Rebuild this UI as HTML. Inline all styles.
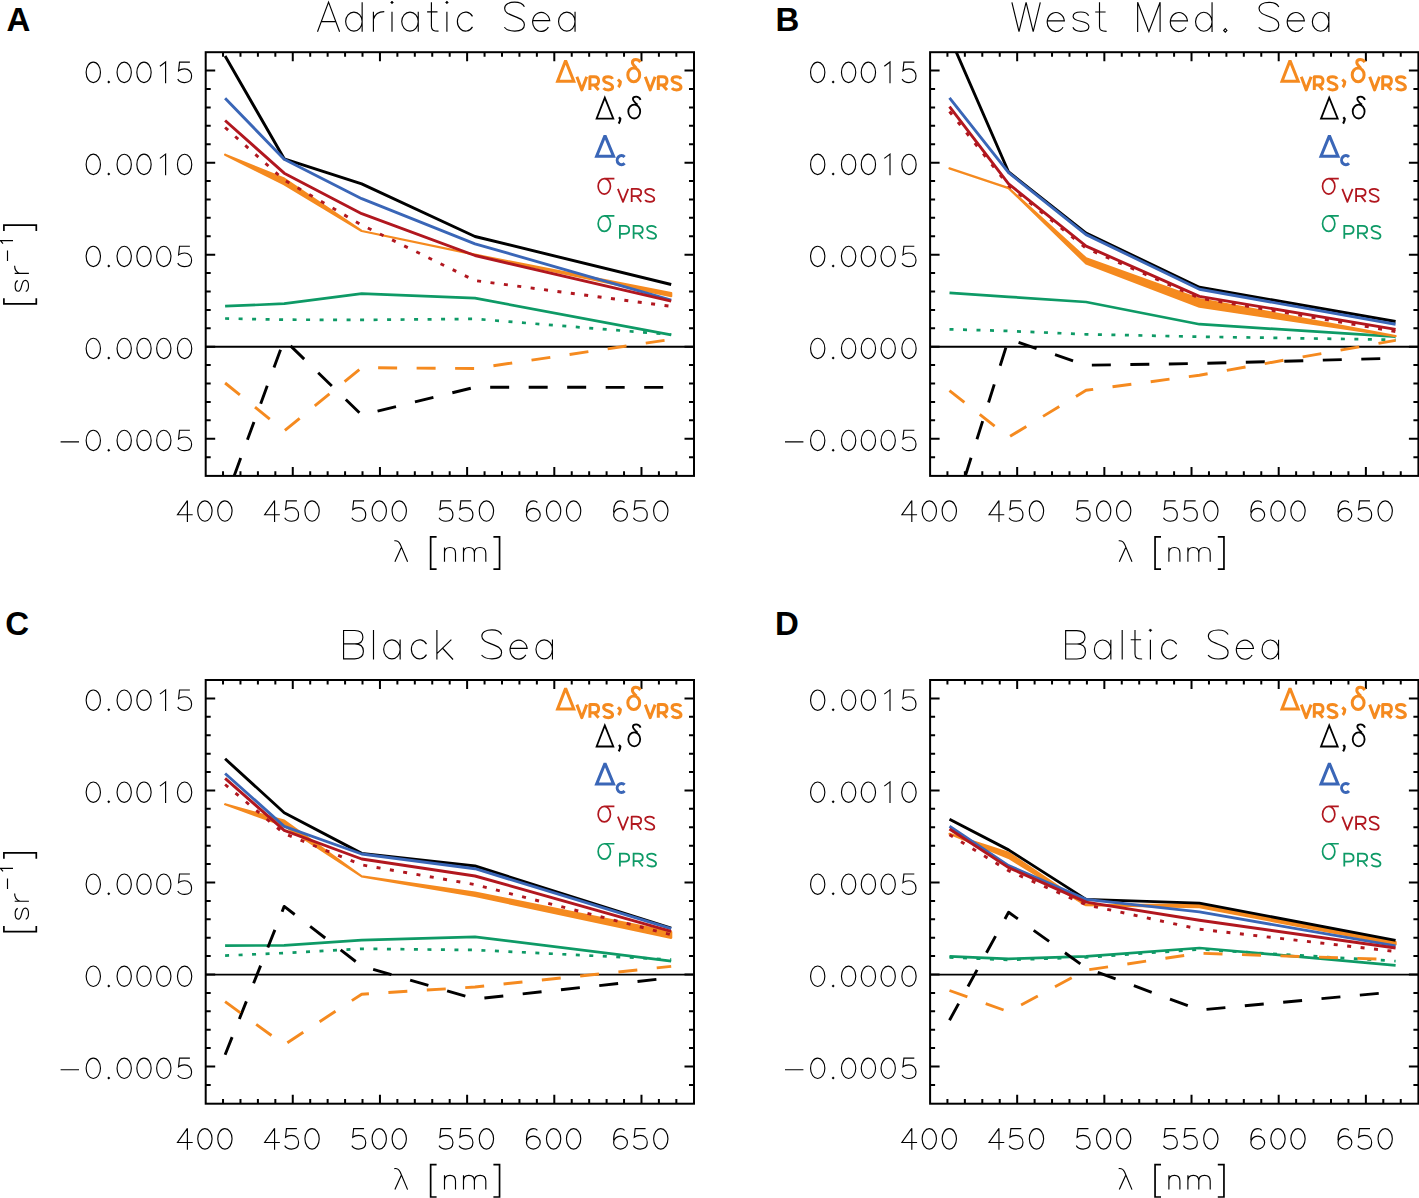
<!DOCTYPE html><html><head><meta charset="utf-8"><style>html,body{margin:0;padding:0;background:#fff}svg{display:block}</style></head><body><svg width="1419" height="1198" viewBox="0 0 1419 1198">
<rect width="1419" height="1198" fill="#fff"/>
<path d="M 317.5 31.75 L 328.55 2.15 L 339.6 31.75 M 321.3 21.55 H 335.8 M 362.15 21.6 A 8.25 9.5 0 1 0 345.65 21.6 A 8.25 9.5 0 1 0 362.15 21.6 M 362.15 2.15 V 31.75 M 373.4 11.75 V 31.75 M 373.4 19.25 C 374.95 13.95 378.25 11.65 384.25 11.65 M 392 11.85 V 31.75 M 418.25 21.6 A 8.25 9.5 0 1 0 401.75 21.6 A 8.25 9.5 0 1 0 418.25 21.6 M 418.25 11.85 V 31.75 M 427.1 11.85 H 437.5 M 431.4 2.15 V 26.25 C 431.4 30.15 433.4 31.15 438.5 31.15 M 446.9 11.85 V 31.75 M 472.5 16.35 A 8.25 9.5 0 1 0 472.5 26.85 M 524.4 6.75 C 522.6 3.25 519 2.15 514.7 2.15 C 509 2.15 504.65 4.35 504.65 8.45 C 504.65 12.35 508 13.95 514.5 16.35 C 521.2 18.85 524.4 20.55 524.4 24.85 C 524.4 29.25 520.4 31.15 514.8 31.15 C 510 31.15 506.3 29.75 504.35 27.25 M 532.85 20.65 H 549.75 A 8.6 9.5 0 1 0 548.4 27.15 M 575.05 21.6 A 8.25 9.5 0 1 0 558.55 21.6 A 8.25 9.5 0 1 0 575.05 21.6 M 575.05 11.85 V 31.75 M 1011.9 2.3 L 1019 31.7 L 1026.1 2.3 L 1033.2 31.7 L 1040.3 2.3 M 1047.45 20.8 H 1064.35 A 8.6 9.5 0 1 0 1063 27.3 M 1088.6 15.8 C 1087.5 13 1084.8 12 1080.8 12 C 1076.1 12 1073.1 13.6 1073.1 16.5 C 1073.1 19.4 1076.1 20.3 1080.8 21.3 C 1085.7 22.3 1088.9 23.5 1088.9 26.7 C 1088.9 30 1085.5 31.3 1080.8 31.3 C 1076.8 31.3 1074 30.1 1072.9 27.3 M 1095.2 12 H 1105.6 M 1099.5 2.3 V 26.4 C 1099.5 30.3 1101.5 31.3 1106.6 31.3 M 1137.65 31.9 V 2.3 L 1148.9 31.7 L 1160.1 2.3 V 31.9 M 1170.55 20.8 H 1187.45 A 8.6 9.5 0 1 0 1186.1 27.3 M 1212.05 21.75 A 8.25 9.5 0 1 0 1195.55 21.75 A 8.25 9.5 0 1 0 1212.05 21.75 M 1212.05 2.3 V 31.9 M 1225.3 28.7 L 1226.9 30.4 L 1225.3 32.1 L 1223.7 30.4 Z M 1278.8 6.9 C 1277 3.4 1273.4 2.3 1269.1 2.3 C 1263.4 2.3 1259.05 4.5 1259.05 8.6 C 1259.05 12.5 1262.4 14.1 1268.9 16.5 C 1275.6 19 1278.8 20.7 1278.8 25 C 1278.8 29.4 1274.8 31.3 1269.2 31.3 C 1264.4 31.3 1260.7 29.9 1258.75 27.4 M 1287.45 20.8 H 1304.35 A 8.6 9.5 0 1 0 1303 27.3 M 1328.85 21.75 A 8.25 9.5 0 1 0 1312.35 21.75 A 8.25 9.5 0 1 0 1328.85 21.75 M 1328.85 12 V 31.9 M 343.55 659.5 V 630.5 H 354.7 C 360.2 630.5 362.9 633 362.9 637.2 C 362.9 641.5 359.9 643.9 354.9 643.9 H 343.55 M 354.9 643.9 C 360.5 643.9 363.4 646.7 363.4 651.3 C 363.4 656.3 360.1 658.85 354.7 658.85 H 343.55 M 373.5 629.9 V 659.5 M 400.15 649.35 A 8.25 9.5 0 1 0 383.65 649.35 A 8.25 9.5 0 1 0 400.15 649.35 M 400.15 639.6 V 659.5 M 426.5 644.1 A 8.25 9.5 0 1 0 426.5 654.6 M 436.9 629.9 V 659.5 M 436.9 653.6 L 451.35 639.6 M 442.85 648.5 L 453.05 659.5 M 501.6 634.5 C 499.8 631 496.2 629.9 491.9 629.9 C 486.2 629.9 481.85 632.1 481.85 636.2 C 481.85 640.1 485.2 641.7 491.7 644.1 C 498.4 646.6 501.6 648.3 501.6 652.6 C 501.6 657 497.6 658.9 492 658.9 C 487.2 658.9 483.5 657.5 481.55 655 M 510.25 648.4 H 527.15 A 8.6 9.5 0 1 0 525.8 654.9 M 552.45 649.35 A 8.25 9.5 0 1 0 535.95 649.35 A 8.25 9.5 0 1 0 552.45 649.35 M 552.45 639.6 V 659.5 M 1065.65 659.6 V 630.6 H 1076.8 C 1082.3 630.6 1085 633.1 1085 637.3 C 1085 641.6 1082 644 1077 644 H 1065.65 M 1077 644 C 1082.6 644 1085.5 646.8 1085.5 651.4 C 1085.5 656.4 1082.2 658.95 1076.8 658.95 H 1065.65 M 1110.85 649.45 A 8.25 9.5 0 1 0 1094.35 649.45 A 8.25 9.5 0 1 0 1110.85 649.45 M 1110.85 639.7 V 659.6 M 1122.2 630 V 659.6 M 1130.7 639.7 H 1141.1 M 1135 630 V 654.1 C 1135 658 1137 659 1142.1 659 M 1150.4 639.7 V 659.6 M 1176.7 644.2 A 8.25 9.5 0 1 0 1176.7 654.7 M 1228.1 634.6 C 1226.3 631.1 1222.7 630 1218.4 630 C 1212.7 630 1208.35 632.2 1208.35 636.3 C 1208.35 640.2 1211.7 641.8 1218.2 644.2 C 1224.9 646.7 1228.1 648.4 1228.1 652.7 C 1228.1 657.1 1224.1 659 1218.5 659 C 1213.7 659 1210 657.6 1208.05 655.1 M 1236.55 648.5 H 1253.45 A 8.6 9.5 0 1 0 1252.1 655 M 1278.55 649.45 A 8.25 9.5 0 1 0 1262.05 649.45 A 8.25 9.5 0 1 0 1278.55 649.45 M 1278.55 639.7 V 659.6" fill="none" stroke="#000" stroke-width="1.15" stroke-linecap="butt"/>
<path d="M392.00 1.05 l1.4 1.4 l-1.4 1.4 l-1.4 -1.4 z" fill="#000" stroke="#000" stroke-width="0.6"/>
<path d="M446.90 1.05 l1.4 1.4 l-1.4 1.4 l-1.4 -1.4 z" fill="#000" stroke="#000" stroke-width="0.6"/>
<path d="M1150.40 628.90 l1.4 1.4 l-1.4 1.4 l-1.4 -1.4 z" fill="#000" stroke="#000" stroke-width="0.6"/>
<g transform="translate(0.00,0.00)">
<clipPath id="clipA"><rect x="205.70" y="52.20" width="488.30" height="423.70"/></clipPath>
<g clip-path="url(#clipA)" fill="none" stroke-linejoin="round">
<line x1="205.70" y1="346.8" x2="694.00" y2="346.8" stroke="#000" stroke-width="1.9"/>
<polyline points="225.10,318.50 284.20,319.70 361.70,319.90 475.00,318.90 671.20,334.60" stroke="#0e9a66" stroke-width="2.7" stroke-dasharray="4 9.5" stroke-linejoin="miter"/>
<polyline points="225.10,306.20 284.20,303.70 361.70,293.60 475.00,298.10 671.20,334.80" stroke="#0e9a66" stroke-width="2.7"/>
<polyline points="234.14,475.90 284.20,339.70 361.70,415.00 475.00,387.20 671.20,387.40" stroke="#000" stroke-width="2.9" stroke-dasharray="19 19.5"/>
<polyline points="225.10,383.00 284.20,430.90 361.70,367.70 475.00,368.50 671.20,339.40" stroke="#f58a1f" stroke-width="2.9" stroke-dasharray="19 19.5"/>
<polygon points="225.10,154.70 284.20,178.60 361.70,231.00 475.00,254.70 671.20,293.00 671.20,296.20 475.00,254.70 361.70,231.00 284.20,184.30 225.10,154.70" fill="#f58a1f" stroke="#f58a1f" stroke-width="2.2"/>
<polyline points="225.10,56.00 284.20,158.80 361.70,183.90 475.00,236.50 671.20,284.50" stroke="#000" stroke-width="2.9"/>
<polyline points="225.10,98.30 284.20,159.20 361.70,198.70 475.00,243.80 671.20,300.20" stroke="#3a66b7" stroke-width="2.9"/>
<polyline points="225.10,127.50 284.20,180.00 361.70,225.00 475.00,280.60 671.20,306.40" stroke="#b1171f" stroke-width="2.9" stroke-dasharray="4 9.5" stroke-linejoin="miter"/>
<polyline points="225.10,120.50 284.20,173.20 361.70,213.70 475.00,255.50 671.20,301.20" stroke="#b1171f" stroke-width="2.9"/>
</g>
<path d="M223.03 475.90 V471.30 M223.03 52.20 V56.80 M240.47 475.90 V471.30 M240.47 52.20 V56.80 M257.90 475.90 V471.30 M257.90 52.20 V56.80 M275.34 475.90 V471.30 M275.34 52.20 V56.80 M292.77 475.90 V466.90 M292.77 52.20 V61.20 M310.21 475.90 V471.30 M310.21 52.20 V56.80 M327.64 475.90 V471.30 M327.64 52.20 V56.80 M345.08 475.90 V471.30 M345.08 52.20 V56.80 M362.51 475.90 V471.30 M362.51 52.20 V56.80 M379.95 475.90 V466.90 M379.95 52.20 V61.20 M397.38 475.90 V471.30 M397.38 52.20 V56.80 M414.82 475.90 V471.30 M414.82 52.20 V56.80 M432.25 475.90 V471.30 M432.25 52.20 V56.80 M449.69 475.90 V471.30 M449.69 52.20 V56.80 M467.12 475.90 V466.90 M467.12 52.20 V61.20 M484.56 475.90 V471.30 M484.56 52.20 V56.80 M502.00 475.90 V471.30 M502.00 52.20 V56.80 M519.43 475.90 V471.30 M519.43 52.20 V56.80 M536.87 475.90 V471.30 M536.87 52.20 V56.80 M554.30 475.90 V466.90 M554.30 52.20 V61.20 M571.74 475.90 V471.30 M571.74 52.20 V56.80 M589.17 475.90 V471.30 M589.17 52.20 V56.80 M606.61 475.90 V471.30 M606.61 52.20 V56.80 M624.04 475.90 V471.30 M624.04 52.20 V56.80 M641.48 475.90 V466.90 M641.48 52.20 V61.20 M658.91 475.90 V471.30 M658.91 52.20 V56.80 M676.35 475.90 V471.30 M676.35 52.20 V56.80 M205.70 457.13 H210.70 M694.00 457.13 H689.00 M205.70 438.73 H215.20 M694.00 438.73 H684.50 M205.70 420.32 H210.70 M694.00 420.32 H689.00 M205.70 401.91 H210.70 M694.00 401.91 H689.00 M205.70 383.51 H210.70 M694.00 383.51 H689.00 M205.70 365.11 H210.70 M694.00 365.11 H689.00 M205.70 346.70 H215.20 M694.00 346.70 H684.50 M205.70 328.29 H210.70 M694.00 328.29 H689.00 M205.70 309.89 H210.70 M694.00 309.89 H689.00 M205.70 291.49 H210.70 M694.00 291.49 H689.00 M205.70 273.08 H210.70 M694.00 273.08 H689.00 M205.70 254.67 H215.20 M694.00 254.67 H684.50 M205.70 236.27 H210.70 M694.00 236.27 H689.00 M205.70 217.86 H210.70 M694.00 217.86 H689.00 M205.70 199.46 H210.70 M694.00 199.46 H689.00 M205.70 181.05 H210.70 M694.00 181.05 H689.00 M205.70 162.65 H215.20 M694.00 162.65 H684.50 M205.70 144.24 H210.70 M694.00 144.24 H689.00 M205.70 125.84 H210.70 M694.00 125.84 H689.00 M205.70 107.43 H210.70 M694.00 107.43 H689.00 M205.70 89.03 H210.70 M694.00 89.03 H689.00 M205.70 70.62 H215.20 M694.00 70.62 H684.50" stroke="#000" stroke-width="2" fill="none"/>
<rect x="205.70" y="52.20" width="488.30" height="423.70" fill="none" stroke="#000" stroke-width="2" stroke-linejoin="miter"/>
<path d="M 187.4 500.6 L 177.5 514.7 H 192.7 M 187.4 500.5 V 521.9 M 212.05 511.05 A 7.15 10.2 0 1 0 197.75 511.05 A 7.15 10.2 0 1 0 212.05 511.05 M 232.05 511.05 A 7.15 10.2 0 1 0 217.75 511.05 A 7.15 10.2 0 1 0 232.05 511.05 M 274.57 500.6 L 264.67 514.7 H 279.88 M 274.57 500.5 V 521.9 M 296.88 500.85 H 286.47 L 285.57 509.5 C 287.07 508.3 289.07 507.6 291.57 507.6 C 295.88 507.6 298.57 510.7 298.57 514.8 C 298.57 519 295.88 521.25 291.57 521.25 C 288.47 521.25 286.07 520 284.67 517.8 M 319.22 511.05 A 7.15 10.2 0 1 0 304.92 511.05 A 7.15 10.2 0 1 0 319.22 511.05 M 364.05 500.85 H 353.65 L 352.75 509.5 C 354.25 508.3 356.25 507.6 358.75 507.6 C 363.05 507.6 365.75 510.7 365.75 514.8 C 365.75 519 363.05 521.25 358.75 521.25 C 355.65 521.25 353.25 520 351.85 517.8 M 386.4 511.05 A 7.15 10.2 0 1 0 372.1 511.05 A 7.15 10.2 0 1 0 386.4 511.05 M 406.4 511.05 A 7.15 10.2 0 1 0 392.1 511.05 A 7.15 10.2 0 1 0 406.4 511.05 M 451.23 500.85 H 440.82 L 439.93 509.5 C 441.43 508.3 443.43 507.6 445.93 507.6 C 450.23 507.6 452.93 510.7 452.93 514.8 C 452.93 519 450.23 521.25 445.93 521.25 C 442.82 521.25 440.43 520 439.02 517.8 M 471.23 500.85 H 460.82 L 459.93 509.5 C 461.43 508.3 463.43 507.6 465.93 507.6 C 470.23 507.6 472.93 510.7 472.93 514.8 C 472.93 519 470.23 521.25 465.93 521.25 C 462.82 521.25 460.43 520 459.02 517.8 M 493.57 511.05 A 7.15 10.2 0 1 0 479.27 511.05 A 7.15 10.2 0 1 0 493.57 511.05 M 537.4 502.5 C 536.2 501.2 534.7 500.85 533.4 500.85 C 528.8 500.85 526.45 505.4 526.45 512.4 M 526.45 514.8 A 6.9 6.45 0 1 0 540.25 514.8 A 6.9 6.45 0 1 0 526.45 514.8 M 560.75 511.05 A 7.15 10.2 0 1 0 546.45 511.05 A 7.15 10.2 0 1 0 560.75 511.05 M 580.75 511.05 A 7.15 10.2 0 1 0 566.45 511.05 A 7.15 10.2 0 1 0 580.75 511.05 M 624.58 502.5 C 623.38 501.2 621.88 500.85 620.58 500.85 C 615.98 500.85 613.62 505.4 613.62 512.4 M 613.62 514.8 A 6.9 6.45 0 1 0 627.43 514.8 A 6.9 6.45 0 1 0 613.62 514.8 M 645.58 500.85 H 635.18 L 634.27 509.5 C 635.77 508.3 637.77 507.6 640.27 507.6 C 644.58 507.6 647.27 510.7 647.27 514.8 C 647.27 519 644.58 521.25 640.27 521.25 C 637.18 521.25 634.77 520 633.38 517.8 M 667.93 511.05 A 7.15 10.2 0 1 0 653.62 511.05 A 7.15 10.2 0 1 0 667.93 511.05 M 100.45 72.37 A 7.15 10.2 0 1 0 86.15 72.37 A 7.15 10.2 0 1 0 100.45 72.37 M 131.35 72.37 A 7.15 10.2 0 1 0 117.05 72.37 A 7.15 10.2 0 1 0 131.35 72.37 M 151.15 72.37 A 7.15 10.2 0 1 0 136.85 72.37 A 7.15 10.2 0 1 0 151.15 72.37 M 159.9 66.32 L 165.6 62.02 V 83.22 M 189.9 62.17 H 179.5 L 178.6 70.82 C 180.1 69.62 182.1 68.92 184.6 68.92 C 188.9 68.92 191.6 72.02 191.6 76.12 C 191.6 80.32 188.9 82.57 184.6 82.57 C 181.5 82.57 179.1 81.32 177.7 79.12 M 100.45 164.4 A 7.15 10.2 0 1 0 86.15 164.4 A 7.15 10.2 0 1 0 100.45 164.4 M 131.35 164.4 A 7.15 10.2 0 1 0 117.05 164.4 A 7.15 10.2 0 1 0 131.35 164.4 M 151.15 164.4 A 7.15 10.2 0 1 0 136.85 164.4 A 7.15 10.2 0 1 0 151.15 164.4 M 159.9 158.35 L 165.6 154.05 V 175.25 M 191.75 164.4 A 7.15 10.2 0 1 0 177.45 164.4 A 7.15 10.2 0 1 0 191.75 164.4 M 100.45 256.42 A 7.15 10.2 0 1 0 86.15 256.42 A 7.15 10.2 0 1 0 100.45 256.42 M 131.35 256.42 A 7.15 10.2 0 1 0 117.05 256.42 A 7.15 10.2 0 1 0 131.35 256.42 M 151.15 256.42 A 7.15 10.2 0 1 0 136.85 256.42 A 7.15 10.2 0 1 0 151.15 256.42 M 170.95 256.42 A 7.15 10.2 0 1 0 156.65 256.42 A 7.15 10.2 0 1 0 170.95 256.42 M 189.9 246.22 H 179.5 L 178.6 254.87 C 180.1 253.67 182.1 252.97 184.6 252.97 C 188.9 252.97 191.6 256.07 191.6 260.17 C 191.6 264.38 188.9 266.62 184.6 266.62 C 181.5 266.62 179.1 265.38 177.7 263.17 M 100.45 348.45 A 7.15 10.2 0 1 0 86.15 348.45 A 7.15 10.2 0 1 0 100.45 348.45 M 131.35 348.45 A 7.15 10.2 0 1 0 117.05 348.45 A 7.15 10.2 0 1 0 131.35 348.45 M 151.15 348.45 A 7.15 10.2 0 1 0 136.85 348.45 A 7.15 10.2 0 1 0 151.15 348.45 M 170.95 348.45 A 7.15 10.2 0 1 0 156.65 348.45 A 7.15 10.2 0 1 0 170.95 348.45 M 191.75 348.45 A 7.15 10.2 0 1 0 177.45 348.45 A 7.15 10.2 0 1 0 191.75 348.45 M 100.45 440.48 A 7.15 10.2 0 1 0 86.15 440.48 A 7.15 10.2 0 1 0 100.45 440.48 M 131.35 440.48 A 7.15 10.2 0 1 0 117.05 440.48 A 7.15 10.2 0 1 0 131.35 440.48 M 151.15 440.48 A 7.15 10.2 0 1 0 136.85 440.48 A 7.15 10.2 0 1 0 151.15 440.48 M 170.95 440.48 A 7.15 10.2 0 1 0 156.65 440.48 A 7.15 10.2 0 1 0 170.95 440.48 M 189.9 430.28 H 179.5 L 178.6 438.93 C 180.1 437.73 182.1 437.03 184.6 437.03 C 188.9 437.03 191.6 440.13 191.6 444.23 C 191.6 448.43 188.9 450.68 184.6 450.68 C 181.5 450.68 179.1 449.43 177.7 447.23 M 60.6 441.93 H 79 M 394.3 540.8 C 396.9 540.4 398.9 541.4 400.3 544.4 L 407.6 561.8 M 401.2 547.8 L 394.9 561.8 M 444.5 561.8 V 547.5 M 444.5 553.3 C 444.5 549.5 446.9 547.5 450 547.5 C 453.3 547.5 455.5 549.6 455.5 553.3 V 561.8 M 463.5 561.8 V 547.5 M 463.5 553.3 C 463.5 549.5 465.8 547.5 468.9 547.5 C 472 547.5 474.4 549.5 474.4 553.3 V 561.8 M 474.4 553.3 C 474.4 549.5 476.9 547.5 480.1 547.5 C 483.4 547.5 485.8 549.6 485.8 553.3 V 561.8" fill="none" stroke="#000" stroke-width="1.15"/>
<path d="M108.75 80.52 l1.5 1.5 l-1.5 1.5 l-1.5 -1.5 z M108.75 172.55 l1.5 1.5 l-1.5 1.5 l-1.5 -1.5 z M108.75 264.57 l1.5 1.5 l-1.5 1.5 l-1.5 -1.5 z M108.75 356.60 l1.5 1.5 l-1.5 1.5 l-1.5 -1.5 z M108.75 448.63 l1.5 1.5 l-1.5 1.5 l-1.5 -1.5 z" fill="#000"/>
<path d="M 436.6 536.8 H 430.65 V 569.2 H 436.6 M 493.4 536.8 H 499.55 V 569.2 H 493.4" fill="none" stroke="#000" stroke-width="1.7"/>
<g transform="translate(28.9,304.7) rotate(-90)"><path d="M 24.11 -11.11 C 23.35 -13.04 21.49 -13.73 18.73 -13.73 C 15.48 -13.73 13.41 -12.63 13.41 -10.63 C 13.41 -8.62 15.48 -8 18.73 -7.31 C 22.11 -6.62 24.32 -5.8 24.32 -3.59 C 24.32 -1.31 21.97 -0.41 18.73 -0.41 C 15.97 -0.41 14.04 -1.24 13.28 -3.17 M 31.26 -14.2 V 0 M 31.26 -8.88 C 32.36 -12.64 34.7 -14.27 38.97 -14.27 M43.6 -21.4 H54.1 M61.1 -25.9 L64.1 -28.4 V-15.9" fill="none" stroke="#000" stroke-width="1.15"/><path d="M6.5 -25.0 H0.85 V7.4 H6.5 M73.7 -25.0 H79.6 V7.4 H73.7" fill="none" stroke="#000" stroke-width="1.7"/></g>
<path d="M565.6 60.6 L573.8 81.2 H557.6 Z" fill="none" stroke="#f58a1f" stroke-width="3" stroke-linejoin="miter" stroke-miterlimit="2"/>
<path d="M576.9 76.8 L581.8 89.9 L586.7 76.8 M589.9 89.9 V76.8 H594.4 C597.5 76.8 598.6 79.0 598.6 81.0 C598.6 83.1 597.3 85.0 594.4 85.0 H589.9 M594.2 85.0 L598.6 89.9 M 612.6 78.88 C 611.78 77.3 610.15 76.8 608.2 76.8 C 605.61 76.8 603.64 77.79 603.64 79.65 C 603.64 81.41 605.16 82.13 608.11 83.21 C 611.15 84.34 612.6 85.11 612.6 87.05 C 612.6 89.04 610.78 89.9 608.24 89.9 C 606.06 89.9 604.39 89.27 603.5 88.14" fill="none" stroke="#f58a1f" stroke-width="3" stroke-linejoin="round"/>
<path d="M 645.3 76.8 L 650.2 89.9 L 655.1 76.8 M 658.3 89.9 V 76.8 H 662.8 C 665.9 76.8 667 79 667 81 C 667 83.1 665.7 85 662.8 85 H 658.3 M 662.6 85 L 667 89.9 M 681 78.88 C 680.18 77.3 678.55 76.8 676.6 76.8 C 674.01 76.8 672.04 77.79 672.04 79.65 C 672.04 81.41 673.56 82.13 676.51 83.21 C 679.55 84.34 681 85.11 681 87.05 C 681 89.04 679.18 89.9 676.64 89.9 C 674.46 89.9 672.79 89.27 671.9 88.14" fill="none" stroke="#f58a1f" stroke-width="3" stroke-linejoin="round"/>
<path d="M617.9 79.5 L620.4 81.9 C620.4 84.0 619.7 85.8 618.4 87.3" fill="none" stroke="#f58a1f" stroke-width="3.0" stroke-linejoin="round"/>
<path d="M639.70 74.90 A5.95 6.80 0 1 0 627.80 74.90 A5.95 6.80 0 1 0 639.70 74.90 M640.5 62.2 C639.2 60.4 637.6 59.5 635.8 59.5 C633.6 59.5 632.4 60.7 632.4 62.6 C632.4 64.6 634.5 66.5 636.5 68.3" fill="none" stroke="#f58a1f" stroke-width="3" />
<path d="M604.8 97.6 L613.3 118.7 H596.6 Z" fill="none" stroke="#000" stroke-width="1.8" stroke-linejoin="miter"/>
<path d="M618.9 117.3 L620.3 118.8 C620.3 120.5 619.7 122.1 618.7 123.6" fill="none" stroke="#000" stroke-width="2.2" stroke-linejoin="round"/>
<path d="M640.20 111.55 A5.95 6.95 0 1 0 628.30 111.55 A5.95 6.95 0 1 0 640.20 111.55 M640.6 99.8 C639.6 97.5 638.0 96.6 636.2 96.6 C634.2 96.6 632.9 97.6 632.9 99.0 C632.9 100.8 635.0 102.6 637.6 104.8" fill="none" stroke="#000" stroke-width="1.8" />
<path d="M605.0 135.6 L613.6 156.3 H596.6 Z" fill="none" stroke="#3a66b7" stroke-width="3" stroke-linejoin="miter" stroke-miterlimit="2"/>
<path d="M624.6 157.0 A4.3 4.55 0 1 0 624.6 163.3" fill="none" stroke="#3a66b7" stroke-width="3" />
<path d="M610.45 186.35 A6.15 7.70 0 1 0 598.15 186.35 A6.15 7.70 0 1 0 610.45 186.35 M604.3 178.65 H614.4" fill="none" stroke="#b1171f" stroke-width="1.7" />
<path d="M617.9 188.9 L623.0 201.9 L628.2 188.9 M631.7 201.9 V188.9 H636.5 C639.6 188.9 641.2 190.7 641.2 192.6 C641.2 194.6 639.6 196.2 636.5 196.2 H631.7 M636.7 196.2 L641.2 201.9 M 654.3 190.96 C 653.47 189.39 651.82 188.9 649.85 188.9 C 647.23 188.9 645.24 189.89 645.24 191.72 C 645.24 193.47 646.77 194.19 649.76 195.27 C 652.83 196.39 654.3 197.15 654.3 199.08 C 654.3 201.05 652.46 201.9 649.9 201.9 C 647.69 201.9 645.99 201.27 645.1 200.15" fill="none" stroke="#b1171f" stroke-width="1.8" stroke-linejoin="round"/>
<path d="M610.45 223.65 A6.15 7.70 0 1 0 598.15 223.65 A6.15 7.70 0 1 0 610.45 223.65 M604.3 215.95 H614.4" fill="none" stroke="#0e9a66" stroke-width="1.7" />
<path d="M619.9 238.7 V225.9 H624.5 C627.8 225.9 629.2 227.8 629.2 229.9 C629.2 232.0 627.8 233.8 624.5 233.8 H619.9 M633.6 238.7 V225.9 H638.3 C641.5 225.9 642.8 227.8 642.8 229.7 C642.8 231.7 641.5 233.4 638.3 233.4 H633.6 M638.4 233.4 L642.8 238.7 M 656.1 227.93 C 655.28 226.39 653.65 225.9 651.7 225.9 C 649.11 225.9 647.14 226.87 647.14 228.68 C 647.14 230.4 648.66 231.11 651.61 232.17 C 654.65 233.27 656.1 234.02 656.1 235.92 C 656.1 237.86 654.28 238.7 651.74 238.7 C 649.56 238.7 647.89 238.08 647 236.98" fill="none" stroke="#0e9a66" stroke-width="1.8" />
</g>
<g transform="translate(724.40,0.00)">
<clipPath id="clipB"><rect x="205.70" y="52.20" width="488.30" height="423.70"/></clipPath>
<g clip-path="url(#clipB)" fill="none" stroke-linejoin="round">
<line x1="205.70" y1="346.8" x2="694.00" y2="346.8" stroke="#000" stroke-width="1.9"/>
<polyline points="225.10,329.30 284.20,331.00 361.70,334.30 475.00,336.70 671.20,339.80" stroke="#0e9a66" stroke-width="2.7" stroke-dasharray="4 9.5" stroke-linejoin="miter"/>
<polyline points="225.10,292.80 284.20,296.80 361.70,302.00 475.00,324.20 671.20,336.70" stroke="#0e9a66" stroke-width="2.7"/>
<polyline points="240.92,475.90 284.20,339.10 361.70,365.20 475.00,363.50 671.20,358.20" stroke="#000" stroke-width="2.9" stroke-dasharray="19 19.5"/>
<polyline points="225.10,390.60 284.20,437.20 361.70,390.30 475.00,375.20 671.20,340.40" stroke="#f58a1f" stroke-width="2.9" stroke-dasharray="19 19.5"/>
<polygon points="225.10,168.40 284.20,188.10 361.70,258.40 475.00,299.00 671.20,336.10 671.20,336.10 475.00,306.70 361.70,263.50 284.20,188.10 225.10,168.40" fill="#f58a1f" stroke="#f58a1f" stroke-width="2.2"/>
<polyline points="225.10,36.60 284.20,172.00 361.70,233.10 475.00,287.20 671.20,321.50" stroke="#000" stroke-width="2.9"/>
<polyline points="225.10,97.90 284.20,172.60 361.70,234.60 475.00,289.30 671.20,324.20" stroke="#3a66b7" stroke-width="2.9"/>
<polyline points="225.10,111.50 284.20,185.60 361.70,248.20 475.00,298.10 671.20,331.50" stroke="#b1171f" stroke-width="2.9" stroke-dasharray="4 9.5" stroke-linejoin="miter"/>
<polyline points="225.10,106.70 284.20,183.90 361.70,246.10 475.00,296.40 671.20,329.40" stroke="#b1171f" stroke-width="2.9"/>
</g>
<path d="M223.03 475.90 V471.30 M223.03 52.20 V56.80 M240.47 475.90 V471.30 M240.47 52.20 V56.80 M257.90 475.90 V471.30 M257.90 52.20 V56.80 M275.34 475.90 V471.30 M275.34 52.20 V56.80 M292.77 475.90 V466.90 M292.77 52.20 V61.20 M310.21 475.90 V471.30 M310.21 52.20 V56.80 M327.64 475.90 V471.30 M327.64 52.20 V56.80 M345.08 475.90 V471.30 M345.08 52.20 V56.80 M362.51 475.90 V471.30 M362.51 52.20 V56.80 M379.95 475.90 V466.90 M379.95 52.20 V61.20 M397.38 475.90 V471.30 M397.38 52.20 V56.80 M414.82 475.90 V471.30 M414.82 52.20 V56.80 M432.25 475.90 V471.30 M432.25 52.20 V56.80 M449.69 475.90 V471.30 M449.69 52.20 V56.80 M467.12 475.90 V466.90 M467.12 52.20 V61.20 M484.56 475.90 V471.30 M484.56 52.20 V56.80 M502.00 475.90 V471.30 M502.00 52.20 V56.80 M519.43 475.90 V471.30 M519.43 52.20 V56.80 M536.87 475.90 V471.30 M536.87 52.20 V56.80 M554.30 475.90 V466.90 M554.30 52.20 V61.20 M571.74 475.90 V471.30 M571.74 52.20 V56.80 M589.17 475.90 V471.30 M589.17 52.20 V56.80 M606.61 475.90 V471.30 M606.61 52.20 V56.80 M624.04 475.90 V471.30 M624.04 52.20 V56.80 M641.48 475.90 V466.90 M641.48 52.20 V61.20 M658.91 475.90 V471.30 M658.91 52.20 V56.80 M676.35 475.90 V471.30 M676.35 52.20 V56.80 M205.70 457.13 H210.70 M694.00 457.13 H689.00 M205.70 438.73 H215.20 M694.00 438.73 H684.50 M205.70 420.32 H210.70 M694.00 420.32 H689.00 M205.70 401.91 H210.70 M694.00 401.91 H689.00 M205.70 383.51 H210.70 M694.00 383.51 H689.00 M205.70 365.11 H210.70 M694.00 365.11 H689.00 M205.70 346.70 H215.20 M694.00 346.70 H684.50 M205.70 328.29 H210.70 M694.00 328.29 H689.00 M205.70 309.89 H210.70 M694.00 309.89 H689.00 M205.70 291.49 H210.70 M694.00 291.49 H689.00 M205.70 273.08 H210.70 M694.00 273.08 H689.00 M205.70 254.67 H215.20 M694.00 254.67 H684.50 M205.70 236.27 H210.70 M694.00 236.27 H689.00 M205.70 217.86 H210.70 M694.00 217.86 H689.00 M205.70 199.46 H210.70 M694.00 199.46 H689.00 M205.70 181.05 H210.70 M694.00 181.05 H689.00 M205.70 162.65 H215.20 M694.00 162.65 H684.50 M205.70 144.24 H210.70 M694.00 144.24 H689.00 M205.70 125.84 H210.70 M694.00 125.84 H689.00 M205.70 107.43 H210.70 M694.00 107.43 H689.00 M205.70 89.03 H210.70 M694.00 89.03 H689.00 M205.70 70.62 H215.20 M694.00 70.62 H684.50" stroke="#000" stroke-width="2" fill="none"/>
<rect x="205.70" y="52.20" width="488.30" height="423.70" fill="none" stroke="#000" stroke-width="2" stroke-linejoin="miter"/>
<path d="M 187.4 500.6 L 177.5 514.7 H 192.7 M 187.4 500.5 V 521.9 M 212.05 511.05 A 7.15 10.2 0 1 0 197.75 511.05 A 7.15 10.2 0 1 0 212.05 511.05 M 232.05 511.05 A 7.15 10.2 0 1 0 217.75 511.05 A 7.15 10.2 0 1 0 232.05 511.05 M 274.57 500.6 L 264.67 514.7 H 279.88 M 274.57 500.5 V 521.9 M 296.88 500.85 H 286.47 L 285.57 509.5 C 287.07 508.3 289.07 507.6 291.57 507.6 C 295.88 507.6 298.57 510.7 298.57 514.8 C 298.57 519 295.88 521.25 291.57 521.25 C 288.47 521.25 286.07 520 284.67 517.8 M 319.22 511.05 A 7.15 10.2 0 1 0 304.92 511.05 A 7.15 10.2 0 1 0 319.22 511.05 M 364.05 500.85 H 353.65 L 352.75 509.5 C 354.25 508.3 356.25 507.6 358.75 507.6 C 363.05 507.6 365.75 510.7 365.75 514.8 C 365.75 519 363.05 521.25 358.75 521.25 C 355.65 521.25 353.25 520 351.85 517.8 M 386.4 511.05 A 7.15 10.2 0 1 0 372.1 511.05 A 7.15 10.2 0 1 0 386.4 511.05 M 406.4 511.05 A 7.15 10.2 0 1 0 392.1 511.05 A 7.15 10.2 0 1 0 406.4 511.05 M 451.23 500.85 H 440.82 L 439.93 509.5 C 441.43 508.3 443.43 507.6 445.93 507.6 C 450.23 507.6 452.93 510.7 452.93 514.8 C 452.93 519 450.23 521.25 445.93 521.25 C 442.82 521.25 440.43 520 439.02 517.8 M 471.23 500.85 H 460.82 L 459.93 509.5 C 461.43 508.3 463.43 507.6 465.93 507.6 C 470.23 507.6 472.93 510.7 472.93 514.8 C 472.93 519 470.23 521.25 465.93 521.25 C 462.82 521.25 460.43 520 459.02 517.8 M 493.57 511.05 A 7.15 10.2 0 1 0 479.27 511.05 A 7.15 10.2 0 1 0 493.57 511.05 M 537.4 502.5 C 536.2 501.2 534.7 500.85 533.4 500.85 C 528.8 500.85 526.45 505.4 526.45 512.4 M 526.45 514.8 A 6.9 6.45 0 1 0 540.25 514.8 A 6.9 6.45 0 1 0 526.45 514.8 M 560.75 511.05 A 7.15 10.2 0 1 0 546.45 511.05 A 7.15 10.2 0 1 0 560.75 511.05 M 580.75 511.05 A 7.15 10.2 0 1 0 566.45 511.05 A 7.15 10.2 0 1 0 580.75 511.05 M 624.58 502.5 C 623.38 501.2 621.88 500.85 620.58 500.85 C 615.98 500.85 613.62 505.4 613.62 512.4 M 613.62 514.8 A 6.9 6.45 0 1 0 627.43 514.8 A 6.9 6.45 0 1 0 613.62 514.8 M 645.58 500.85 H 635.18 L 634.27 509.5 C 635.77 508.3 637.77 507.6 640.27 507.6 C 644.58 507.6 647.27 510.7 647.27 514.8 C 647.27 519 644.58 521.25 640.27 521.25 C 637.18 521.25 634.77 520 633.38 517.8 M 667.93 511.05 A 7.15 10.2 0 1 0 653.62 511.05 A 7.15 10.2 0 1 0 667.93 511.05 M 100.45 72.37 A 7.15 10.2 0 1 0 86.15 72.37 A 7.15 10.2 0 1 0 100.45 72.37 M 131.35 72.37 A 7.15 10.2 0 1 0 117.05 72.37 A 7.15 10.2 0 1 0 131.35 72.37 M 151.15 72.37 A 7.15 10.2 0 1 0 136.85 72.37 A 7.15 10.2 0 1 0 151.15 72.37 M 159.9 66.32 L 165.6 62.02 V 83.22 M 189.9 62.17 H 179.5 L 178.6 70.82 C 180.1 69.62 182.1 68.92 184.6 68.92 C 188.9 68.92 191.6 72.02 191.6 76.12 C 191.6 80.32 188.9 82.57 184.6 82.57 C 181.5 82.57 179.1 81.32 177.7 79.12 M 100.45 164.4 A 7.15 10.2 0 1 0 86.15 164.4 A 7.15 10.2 0 1 0 100.45 164.4 M 131.35 164.4 A 7.15 10.2 0 1 0 117.05 164.4 A 7.15 10.2 0 1 0 131.35 164.4 M 151.15 164.4 A 7.15 10.2 0 1 0 136.85 164.4 A 7.15 10.2 0 1 0 151.15 164.4 M 159.9 158.35 L 165.6 154.05 V 175.25 M 191.75 164.4 A 7.15 10.2 0 1 0 177.45 164.4 A 7.15 10.2 0 1 0 191.75 164.4 M 100.45 256.42 A 7.15 10.2 0 1 0 86.15 256.42 A 7.15 10.2 0 1 0 100.45 256.42 M 131.35 256.42 A 7.15 10.2 0 1 0 117.05 256.42 A 7.15 10.2 0 1 0 131.35 256.42 M 151.15 256.42 A 7.15 10.2 0 1 0 136.85 256.42 A 7.15 10.2 0 1 0 151.15 256.42 M 170.95 256.42 A 7.15 10.2 0 1 0 156.65 256.42 A 7.15 10.2 0 1 0 170.95 256.42 M 189.9 246.22 H 179.5 L 178.6 254.87 C 180.1 253.67 182.1 252.97 184.6 252.97 C 188.9 252.97 191.6 256.07 191.6 260.17 C 191.6 264.38 188.9 266.62 184.6 266.62 C 181.5 266.62 179.1 265.38 177.7 263.17 M 100.45 348.45 A 7.15 10.2 0 1 0 86.15 348.45 A 7.15 10.2 0 1 0 100.45 348.45 M 131.35 348.45 A 7.15 10.2 0 1 0 117.05 348.45 A 7.15 10.2 0 1 0 131.35 348.45 M 151.15 348.45 A 7.15 10.2 0 1 0 136.85 348.45 A 7.15 10.2 0 1 0 151.15 348.45 M 170.95 348.45 A 7.15 10.2 0 1 0 156.65 348.45 A 7.15 10.2 0 1 0 170.95 348.45 M 191.75 348.45 A 7.15 10.2 0 1 0 177.45 348.45 A 7.15 10.2 0 1 0 191.75 348.45 M 100.45 440.48 A 7.15 10.2 0 1 0 86.15 440.48 A 7.15 10.2 0 1 0 100.45 440.48 M 131.35 440.48 A 7.15 10.2 0 1 0 117.05 440.48 A 7.15 10.2 0 1 0 131.35 440.48 M 151.15 440.48 A 7.15 10.2 0 1 0 136.85 440.48 A 7.15 10.2 0 1 0 151.15 440.48 M 170.95 440.48 A 7.15 10.2 0 1 0 156.65 440.48 A 7.15 10.2 0 1 0 170.95 440.48 M 189.9 430.28 H 179.5 L 178.6 438.93 C 180.1 437.73 182.1 437.03 184.6 437.03 C 188.9 437.03 191.6 440.13 191.6 444.23 C 191.6 448.43 188.9 450.68 184.6 450.68 C 181.5 450.68 179.1 449.43 177.7 447.23 M 60.6 441.93 H 79 M 394.3 540.8 C 396.9 540.4 398.9 541.4 400.3 544.4 L 407.6 561.8 M 401.2 547.8 L 394.9 561.8 M 444.5 561.8 V 547.5 M 444.5 553.3 C 444.5 549.5 446.9 547.5 450 547.5 C 453.3 547.5 455.5 549.6 455.5 553.3 V 561.8 M 463.5 561.8 V 547.5 M 463.5 553.3 C 463.5 549.5 465.8 547.5 468.9 547.5 C 472 547.5 474.4 549.5 474.4 553.3 V 561.8 M 474.4 553.3 C 474.4 549.5 476.9 547.5 480.1 547.5 C 483.4 547.5 485.8 549.6 485.8 553.3 V 561.8" fill="none" stroke="#000" stroke-width="1.15"/>
<path d="M108.75 80.52 l1.5 1.5 l-1.5 1.5 l-1.5 -1.5 z M108.75 172.55 l1.5 1.5 l-1.5 1.5 l-1.5 -1.5 z M108.75 264.57 l1.5 1.5 l-1.5 1.5 l-1.5 -1.5 z M108.75 356.60 l1.5 1.5 l-1.5 1.5 l-1.5 -1.5 z M108.75 448.63 l1.5 1.5 l-1.5 1.5 l-1.5 -1.5 z" fill="#000"/>
<path d="M 436.6 536.8 H 430.65 V 569.2 H 436.6 M 493.4 536.8 H 499.55 V 569.2 H 493.4" fill="none" stroke="#000" stroke-width="1.7"/>
<path d="M565.6 60.6 L573.8 81.2 H557.6 Z" fill="none" stroke="#f58a1f" stroke-width="3" stroke-linejoin="miter" stroke-miterlimit="2"/>
<path d="M576.9 76.8 L581.8 89.9 L586.7 76.8 M589.9 89.9 V76.8 H594.4 C597.5 76.8 598.6 79.0 598.6 81.0 C598.6 83.1 597.3 85.0 594.4 85.0 H589.9 M594.2 85.0 L598.6 89.9 M 612.6 78.88 C 611.78 77.3 610.15 76.8 608.2 76.8 C 605.61 76.8 603.64 77.79 603.64 79.65 C 603.64 81.41 605.16 82.13 608.11 83.21 C 611.15 84.34 612.6 85.11 612.6 87.05 C 612.6 89.04 610.78 89.9 608.24 89.9 C 606.06 89.9 604.39 89.27 603.5 88.14" fill="none" stroke="#f58a1f" stroke-width="3" stroke-linejoin="round"/>
<path d="M 645.3 76.8 L 650.2 89.9 L 655.1 76.8 M 658.3 89.9 V 76.8 H 662.8 C 665.9 76.8 667 79 667 81 C 667 83.1 665.7 85 662.8 85 H 658.3 M 662.6 85 L 667 89.9 M 681 78.88 C 680.18 77.3 678.55 76.8 676.6 76.8 C 674.01 76.8 672.04 77.79 672.04 79.65 C 672.04 81.41 673.56 82.13 676.51 83.21 C 679.55 84.34 681 85.11 681 87.05 C 681 89.04 679.18 89.9 676.64 89.9 C 674.46 89.9 672.79 89.27 671.9 88.14" fill="none" stroke="#f58a1f" stroke-width="3" stroke-linejoin="round"/>
<path d="M617.9 79.5 L620.4 81.9 C620.4 84.0 619.7 85.8 618.4 87.3" fill="none" stroke="#f58a1f" stroke-width="3.0" stroke-linejoin="round"/>
<path d="M639.70 74.90 A5.95 6.80 0 1 0 627.80 74.90 A5.95 6.80 0 1 0 639.70 74.90 M640.5 62.2 C639.2 60.4 637.6 59.5 635.8 59.5 C633.6 59.5 632.4 60.7 632.4 62.6 C632.4 64.6 634.5 66.5 636.5 68.3" fill="none" stroke="#f58a1f" stroke-width="3" />
<path d="M604.8 97.6 L613.3 118.7 H596.6 Z" fill="none" stroke="#000" stroke-width="1.8" stroke-linejoin="miter"/>
<path d="M618.9 117.3 L620.3 118.8 C620.3 120.5 619.7 122.1 618.7 123.6" fill="none" stroke="#000" stroke-width="2.2" stroke-linejoin="round"/>
<path d="M640.20 111.55 A5.95 6.95 0 1 0 628.30 111.55 A5.95 6.95 0 1 0 640.20 111.55 M640.6 99.8 C639.6 97.5 638.0 96.6 636.2 96.6 C634.2 96.6 632.9 97.6 632.9 99.0 C632.9 100.8 635.0 102.6 637.6 104.8" fill="none" stroke="#000" stroke-width="1.8" />
<path d="M605.0 135.6 L613.6 156.3 H596.6 Z" fill="none" stroke="#3a66b7" stroke-width="3" stroke-linejoin="miter" stroke-miterlimit="2"/>
<path d="M624.6 157.0 A4.3 4.55 0 1 0 624.6 163.3" fill="none" stroke="#3a66b7" stroke-width="3" />
<path d="M610.45 186.35 A6.15 7.70 0 1 0 598.15 186.35 A6.15 7.70 0 1 0 610.45 186.35 M604.3 178.65 H614.4" fill="none" stroke="#b1171f" stroke-width="1.7" />
<path d="M617.9 188.9 L623.0 201.9 L628.2 188.9 M631.7 201.9 V188.9 H636.5 C639.6 188.9 641.2 190.7 641.2 192.6 C641.2 194.6 639.6 196.2 636.5 196.2 H631.7 M636.7 196.2 L641.2 201.9 M 654.3 190.96 C 653.47 189.39 651.82 188.9 649.85 188.9 C 647.23 188.9 645.24 189.89 645.24 191.72 C 645.24 193.47 646.77 194.19 649.76 195.27 C 652.83 196.39 654.3 197.15 654.3 199.08 C 654.3 201.05 652.46 201.9 649.9 201.9 C 647.69 201.9 645.99 201.27 645.1 200.15" fill="none" stroke="#b1171f" stroke-width="1.8" stroke-linejoin="round"/>
<path d="M610.45 223.65 A6.15 7.70 0 1 0 598.15 223.65 A6.15 7.70 0 1 0 610.45 223.65 M604.3 215.95 H614.4" fill="none" stroke="#0e9a66" stroke-width="1.7" />
<path d="M619.9 238.7 V225.9 H624.5 C627.8 225.9 629.2 227.8 629.2 229.9 C629.2 232.0 627.8 233.8 624.5 233.8 H619.9 M633.6 238.7 V225.9 H638.3 C641.5 225.9 642.8 227.8 642.8 229.7 C642.8 231.7 641.5 233.4 638.3 233.4 H633.6 M638.4 233.4 L642.8 238.7 M 656.1 227.93 C 655.28 226.39 653.65 225.9 651.7 225.9 C 649.11 225.9 647.14 226.87 647.14 228.68 C 647.14 230.4 648.66 231.11 651.61 232.17 C 654.65 233.27 656.1 234.02 656.1 235.92 C 656.1 237.86 654.28 238.7 651.74 238.7 C 649.56 238.7 647.89 238.08 647 236.98" fill="none" stroke="#0e9a66" stroke-width="1.8" />
</g>
<g transform="translate(0.00,627.80)">
<clipPath id="clipC"><rect x="205.70" y="52.20" width="488.30" height="423.70"/></clipPath>
<g clip-path="url(#clipC)" fill="none" stroke-linejoin="round">
<line x1="205.70" y1="346.8" x2="694.00" y2="346.8" stroke="#000" stroke-width="1.9"/>
<polyline points="225.10,327.80 284.20,325.20 361.70,321.00 475.00,322.20 671.20,331.70" stroke="#0e9a66" stroke-width="2.7" stroke-dasharray="4 9.5" stroke-linejoin="miter"/>
<polyline points="225.10,317.80 284.20,317.60 361.70,312.40 475.00,309.10 671.20,333.30" stroke="#0e9a66" stroke-width="2.7"/>
<polyline points="225.10,427.00 284.20,278.60 361.70,338.30 475.00,371.20 671.20,350.00" stroke="#000" stroke-width="2.9" stroke-dasharray="19 19.5"/>
<polyline points="225.10,373.80 284.20,417.00 361.70,366.40 475.00,359.20 671.20,338.60" stroke="#f58a1f" stroke-width="2.9" stroke-dasharray="19 19.5"/>
<polygon points="225.10,176.50 284.20,192.80 361.70,248.50 475.00,264.70 671.20,304.30 671.20,310.00 475.00,268.20 361.70,248.50 284.20,198.00 225.10,176.50" fill="#f58a1f" stroke="#f58a1f" stroke-width="2.2"/>
<polyline points="225.10,131.00 284.20,184.90 361.70,225.60 475.00,238.20 671.20,300.40" stroke="#000" stroke-width="2.9"/>
<polyline points="225.10,145.70 284.20,198.50 361.70,226.20 475.00,240.90 671.20,300.80" stroke="#3a66b7" stroke-width="2.9"/>
<polyline points="225.10,156.70 284.20,205.80 361.70,237.10 475.00,256.80 671.20,307.00" stroke="#b1171f" stroke-width="2.9" stroke-dasharray="4 9.5" stroke-linejoin="miter"/>
<polyline points="225.10,150.50 284.20,202.60 361.70,231.20 475.00,248.20 671.20,303.50" stroke="#b1171f" stroke-width="2.9"/>
</g>
<path d="M223.03 475.90 V471.30 M223.03 52.20 V56.80 M240.47 475.90 V471.30 M240.47 52.20 V56.80 M257.90 475.90 V471.30 M257.90 52.20 V56.80 M275.34 475.90 V471.30 M275.34 52.20 V56.80 M292.77 475.90 V466.90 M292.77 52.20 V61.20 M310.21 475.90 V471.30 M310.21 52.20 V56.80 M327.64 475.90 V471.30 M327.64 52.20 V56.80 M345.08 475.90 V471.30 M345.08 52.20 V56.80 M362.51 475.90 V471.30 M362.51 52.20 V56.80 M379.95 475.90 V466.90 M379.95 52.20 V61.20 M397.38 475.90 V471.30 M397.38 52.20 V56.80 M414.82 475.90 V471.30 M414.82 52.20 V56.80 M432.25 475.90 V471.30 M432.25 52.20 V56.80 M449.69 475.90 V471.30 M449.69 52.20 V56.80 M467.12 475.90 V466.90 M467.12 52.20 V61.20 M484.56 475.90 V471.30 M484.56 52.20 V56.80 M502.00 475.90 V471.30 M502.00 52.20 V56.80 M519.43 475.90 V471.30 M519.43 52.20 V56.80 M536.87 475.90 V471.30 M536.87 52.20 V56.80 M554.30 475.90 V466.90 M554.30 52.20 V61.20 M571.74 475.90 V471.30 M571.74 52.20 V56.80 M589.17 475.90 V471.30 M589.17 52.20 V56.80 M606.61 475.90 V471.30 M606.61 52.20 V56.80 M624.04 475.90 V471.30 M624.04 52.20 V56.80 M641.48 475.90 V466.90 M641.48 52.20 V61.20 M658.91 475.90 V471.30 M658.91 52.20 V56.80 M676.35 475.90 V471.30 M676.35 52.20 V56.80 M205.70 457.13 H210.70 M694.00 457.13 H689.00 M205.70 438.73 H215.20 M694.00 438.73 H684.50 M205.70 420.32 H210.70 M694.00 420.32 H689.00 M205.70 401.91 H210.70 M694.00 401.91 H689.00 M205.70 383.51 H210.70 M694.00 383.51 H689.00 M205.70 365.11 H210.70 M694.00 365.11 H689.00 M205.70 346.70 H215.20 M694.00 346.70 H684.50 M205.70 328.29 H210.70 M694.00 328.29 H689.00 M205.70 309.89 H210.70 M694.00 309.89 H689.00 M205.70 291.49 H210.70 M694.00 291.49 H689.00 M205.70 273.08 H210.70 M694.00 273.08 H689.00 M205.70 254.67 H215.20 M694.00 254.67 H684.50 M205.70 236.27 H210.70 M694.00 236.27 H689.00 M205.70 217.86 H210.70 M694.00 217.86 H689.00 M205.70 199.46 H210.70 M694.00 199.46 H689.00 M205.70 181.05 H210.70 M694.00 181.05 H689.00 M205.70 162.65 H215.20 M694.00 162.65 H684.50 M205.70 144.24 H210.70 M694.00 144.24 H689.00 M205.70 125.84 H210.70 M694.00 125.84 H689.00 M205.70 107.43 H210.70 M694.00 107.43 H689.00 M205.70 89.03 H210.70 M694.00 89.03 H689.00 M205.70 70.62 H215.20 M694.00 70.62 H684.50" stroke="#000" stroke-width="2" fill="none"/>
<rect x="205.70" y="52.20" width="488.30" height="423.70" fill="none" stroke="#000" stroke-width="2" stroke-linejoin="miter"/>
<path d="M 187.4 500.6 L 177.5 514.7 H 192.7 M 187.4 500.5 V 521.9 M 212.05 511.05 A 7.15 10.2 0 1 0 197.75 511.05 A 7.15 10.2 0 1 0 212.05 511.05 M 232.05 511.05 A 7.15 10.2 0 1 0 217.75 511.05 A 7.15 10.2 0 1 0 232.05 511.05 M 274.57 500.6 L 264.67 514.7 H 279.88 M 274.57 500.5 V 521.9 M 296.88 500.85 H 286.47 L 285.57 509.5 C 287.07 508.3 289.07 507.6 291.57 507.6 C 295.88 507.6 298.57 510.7 298.57 514.8 C 298.57 519 295.88 521.25 291.57 521.25 C 288.47 521.25 286.07 520 284.67 517.8 M 319.22 511.05 A 7.15 10.2 0 1 0 304.92 511.05 A 7.15 10.2 0 1 0 319.22 511.05 M 364.05 500.85 H 353.65 L 352.75 509.5 C 354.25 508.3 356.25 507.6 358.75 507.6 C 363.05 507.6 365.75 510.7 365.75 514.8 C 365.75 519 363.05 521.25 358.75 521.25 C 355.65 521.25 353.25 520 351.85 517.8 M 386.4 511.05 A 7.15 10.2 0 1 0 372.1 511.05 A 7.15 10.2 0 1 0 386.4 511.05 M 406.4 511.05 A 7.15 10.2 0 1 0 392.1 511.05 A 7.15 10.2 0 1 0 406.4 511.05 M 451.23 500.85 H 440.82 L 439.93 509.5 C 441.43 508.3 443.43 507.6 445.93 507.6 C 450.23 507.6 452.93 510.7 452.93 514.8 C 452.93 519 450.23 521.25 445.93 521.25 C 442.82 521.25 440.43 520 439.02 517.8 M 471.23 500.85 H 460.82 L 459.93 509.5 C 461.43 508.3 463.43 507.6 465.93 507.6 C 470.23 507.6 472.93 510.7 472.93 514.8 C 472.93 519 470.23 521.25 465.93 521.25 C 462.82 521.25 460.43 520 459.02 517.8 M 493.57 511.05 A 7.15 10.2 0 1 0 479.27 511.05 A 7.15 10.2 0 1 0 493.57 511.05 M 537.4 502.5 C 536.2 501.2 534.7 500.85 533.4 500.85 C 528.8 500.85 526.45 505.4 526.45 512.4 M 526.45 514.8 A 6.9 6.45 0 1 0 540.25 514.8 A 6.9 6.45 0 1 0 526.45 514.8 M 560.75 511.05 A 7.15 10.2 0 1 0 546.45 511.05 A 7.15 10.2 0 1 0 560.75 511.05 M 580.75 511.05 A 7.15 10.2 0 1 0 566.45 511.05 A 7.15 10.2 0 1 0 580.75 511.05 M 624.58 502.5 C 623.38 501.2 621.88 500.85 620.58 500.85 C 615.98 500.85 613.62 505.4 613.62 512.4 M 613.62 514.8 A 6.9 6.45 0 1 0 627.43 514.8 A 6.9 6.45 0 1 0 613.62 514.8 M 645.58 500.85 H 635.18 L 634.27 509.5 C 635.77 508.3 637.77 507.6 640.27 507.6 C 644.58 507.6 647.27 510.7 647.27 514.8 C 647.27 519 644.58 521.25 640.27 521.25 C 637.18 521.25 634.77 520 633.38 517.8 M 667.93 511.05 A 7.15 10.2 0 1 0 653.62 511.05 A 7.15 10.2 0 1 0 667.93 511.05 M 100.45 72.37 A 7.15 10.2 0 1 0 86.15 72.37 A 7.15 10.2 0 1 0 100.45 72.37 M 131.35 72.37 A 7.15 10.2 0 1 0 117.05 72.37 A 7.15 10.2 0 1 0 131.35 72.37 M 151.15 72.37 A 7.15 10.2 0 1 0 136.85 72.37 A 7.15 10.2 0 1 0 151.15 72.37 M 159.9 66.32 L 165.6 62.02 V 83.22 M 189.9 62.17 H 179.5 L 178.6 70.82 C 180.1 69.62 182.1 68.92 184.6 68.92 C 188.9 68.92 191.6 72.02 191.6 76.12 C 191.6 80.32 188.9 82.57 184.6 82.57 C 181.5 82.57 179.1 81.32 177.7 79.12 M 100.45 164.4 A 7.15 10.2 0 1 0 86.15 164.4 A 7.15 10.2 0 1 0 100.45 164.4 M 131.35 164.4 A 7.15 10.2 0 1 0 117.05 164.4 A 7.15 10.2 0 1 0 131.35 164.4 M 151.15 164.4 A 7.15 10.2 0 1 0 136.85 164.4 A 7.15 10.2 0 1 0 151.15 164.4 M 159.9 158.35 L 165.6 154.05 V 175.25 M 191.75 164.4 A 7.15 10.2 0 1 0 177.45 164.4 A 7.15 10.2 0 1 0 191.75 164.4 M 100.45 256.42 A 7.15 10.2 0 1 0 86.15 256.42 A 7.15 10.2 0 1 0 100.45 256.42 M 131.35 256.42 A 7.15 10.2 0 1 0 117.05 256.42 A 7.15 10.2 0 1 0 131.35 256.42 M 151.15 256.42 A 7.15 10.2 0 1 0 136.85 256.42 A 7.15 10.2 0 1 0 151.15 256.42 M 170.95 256.42 A 7.15 10.2 0 1 0 156.65 256.42 A 7.15 10.2 0 1 0 170.95 256.42 M 189.9 246.22 H 179.5 L 178.6 254.87 C 180.1 253.67 182.1 252.97 184.6 252.97 C 188.9 252.97 191.6 256.07 191.6 260.17 C 191.6 264.38 188.9 266.62 184.6 266.62 C 181.5 266.62 179.1 265.38 177.7 263.17 M 100.45 348.45 A 7.15 10.2 0 1 0 86.15 348.45 A 7.15 10.2 0 1 0 100.45 348.45 M 131.35 348.45 A 7.15 10.2 0 1 0 117.05 348.45 A 7.15 10.2 0 1 0 131.35 348.45 M 151.15 348.45 A 7.15 10.2 0 1 0 136.85 348.45 A 7.15 10.2 0 1 0 151.15 348.45 M 170.95 348.45 A 7.15 10.2 0 1 0 156.65 348.45 A 7.15 10.2 0 1 0 170.95 348.45 M 191.75 348.45 A 7.15 10.2 0 1 0 177.45 348.45 A 7.15 10.2 0 1 0 191.75 348.45 M 100.45 440.48 A 7.15 10.2 0 1 0 86.15 440.48 A 7.15 10.2 0 1 0 100.45 440.48 M 131.35 440.48 A 7.15 10.2 0 1 0 117.05 440.48 A 7.15 10.2 0 1 0 131.35 440.48 M 151.15 440.48 A 7.15 10.2 0 1 0 136.85 440.48 A 7.15 10.2 0 1 0 151.15 440.48 M 170.95 440.48 A 7.15 10.2 0 1 0 156.65 440.48 A 7.15 10.2 0 1 0 170.95 440.48 M 189.9 430.28 H 179.5 L 178.6 438.93 C 180.1 437.73 182.1 437.03 184.6 437.03 C 188.9 437.03 191.6 440.13 191.6 444.23 C 191.6 448.43 188.9 450.68 184.6 450.68 C 181.5 450.68 179.1 449.43 177.7 447.23 M 60.6 441.93 H 79 M 394.3 540.8 C 396.9 540.4 398.9 541.4 400.3 544.4 L 407.6 561.8 M 401.2 547.8 L 394.9 561.8 M 444.5 561.8 V 547.5 M 444.5 553.3 C 444.5 549.5 446.9 547.5 450 547.5 C 453.3 547.5 455.5 549.6 455.5 553.3 V 561.8 M 463.5 561.8 V 547.5 M 463.5 553.3 C 463.5 549.5 465.8 547.5 468.9 547.5 C 472 547.5 474.4 549.5 474.4 553.3 V 561.8 M 474.4 553.3 C 474.4 549.5 476.9 547.5 480.1 547.5 C 483.4 547.5 485.8 549.6 485.8 553.3 V 561.8" fill="none" stroke="#000" stroke-width="1.15"/>
<path d="M108.75 80.52 l1.5 1.5 l-1.5 1.5 l-1.5 -1.5 z M108.75 172.55 l1.5 1.5 l-1.5 1.5 l-1.5 -1.5 z M108.75 264.57 l1.5 1.5 l-1.5 1.5 l-1.5 -1.5 z M108.75 356.60 l1.5 1.5 l-1.5 1.5 l-1.5 -1.5 z M108.75 448.63 l1.5 1.5 l-1.5 1.5 l-1.5 -1.5 z" fill="#000"/>
<path d="M 436.6 536.8 H 430.65 V 569.2 H 436.6 M 493.4 536.8 H 499.55 V 569.2 H 493.4" fill="none" stroke="#000" stroke-width="1.7"/>
<g transform="translate(28.9,304.7) rotate(-90)"><path d="M 24.11 -11.11 C 23.35 -13.04 21.49 -13.73 18.73 -13.73 C 15.48 -13.73 13.41 -12.63 13.41 -10.63 C 13.41 -8.62 15.48 -8 18.73 -7.31 C 22.11 -6.62 24.32 -5.8 24.32 -3.59 C 24.32 -1.31 21.97 -0.41 18.73 -0.41 C 15.97 -0.41 14.04 -1.24 13.28 -3.17 M 31.26 -14.2 V 0 M 31.26 -8.88 C 32.36 -12.64 34.7 -14.27 38.97 -14.27 M43.6 -21.4 H54.1 M61.1 -25.9 L64.1 -28.4 V-15.9" fill="none" stroke="#000" stroke-width="1.15"/><path d="M6.5 -25.0 H0.85 V7.4 H6.5 M73.7 -25.0 H79.6 V7.4 H73.7" fill="none" stroke="#000" stroke-width="1.7"/></g>
<path d="M565.6 60.6 L573.8 81.2 H557.6 Z" fill="none" stroke="#f58a1f" stroke-width="3" stroke-linejoin="miter" stroke-miterlimit="2"/>
<path d="M576.9 76.8 L581.8 89.9 L586.7 76.8 M589.9 89.9 V76.8 H594.4 C597.5 76.8 598.6 79.0 598.6 81.0 C598.6 83.1 597.3 85.0 594.4 85.0 H589.9 M594.2 85.0 L598.6 89.9 M 612.6 78.88 C 611.78 77.3 610.15 76.8 608.2 76.8 C 605.61 76.8 603.64 77.79 603.64 79.65 C 603.64 81.41 605.16 82.13 608.11 83.21 C 611.15 84.34 612.6 85.11 612.6 87.05 C 612.6 89.04 610.78 89.9 608.24 89.9 C 606.06 89.9 604.39 89.27 603.5 88.14" fill="none" stroke="#f58a1f" stroke-width="3" stroke-linejoin="round"/>
<path d="M 645.3 76.8 L 650.2 89.9 L 655.1 76.8 M 658.3 89.9 V 76.8 H 662.8 C 665.9 76.8 667 79 667 81 C 667 83.1 665.7 85 662.8 85 H 658.3 M 662.6 85 L 667 89.9 M 681 78.88 C 680.18 77.3 678.55 76.8 676.6 76.8 C 674.01 76.8 672.04 77.79 672.04 79.65 C 672.04 81.41 673.56 82.13 676.51 83.21 C 679.55 84.34 681 85.11 681 87.05 C 681 89.04 679.18 89.9 676.64 89.9 C 674.46 89.9 672.79 89.27 671.9 88.14" fill="none" stroke="#f58a1f" stroke-width="3" stroke-linejoin="round"/>
<path d="M617.9 79.5 L620.4 81.9 C620.4 84.0 619.7 85.8 618.4 87.3" fill="none" stroke="#f58a1f" stroke-width="3.0" stroke-linejoin="round"/>
<path d="M639.70 74.90 A5.95 6.80 0 1 0 627.80 74.90 A5.95 6.80 0 1 0 639.70 74.90 M640.5 62.2 C639.2 60.4 637.6 59.5 635.8 59.5 C633.6 59.5 632.4 60.7 632.4 62.6 C632.4 64.6 634.5 66.5 636.5 68.3" fill="none" stroke="#f58a1f" stroke-width="3" />
<path d="M604.8 97.6 L613.3 118.7 H596.6 Z" fill="none" stroke="#000" stroke-width="1.8" stroke-linejoin="miter"/>
<path d="M618.9 117.3 L620.3 118.8 C620.3 120.5 619.7 122.1 618.7 123.6" fill="none" stroke="#000" stroke-width="2.2" stroke-linejoin="round"/>
<path d="M640.20 111.55 A5.95 6.95 0 1 0 628.30 111.55 A5.95 6.95 0 1 0 640.20 111.55 M640.6 99.8 C639.6 97.5 638.0 96.6 636.2 96.6 C634.2 96.6 632.9 97.6 632.9 99.0 C632.9 100.8 635.0 102.6 637.6 104.8" fill="none" stroke="#000" stroke-width="1.8" />
<path d="M605.0 135.6 L613.6 156.3 H596.6 Z" fill="none" stroke="#3a66b7" stroke-width="3" stroke-linejoin="miter" stroke-miterlimit="2"/>
<path d="M624.6 157.0 A4.3 4.55 0 1 0 624.6 163.3" fill="none" stroke="#3a66b7" stroke-width="3" />
<path d="M610.45 186.35 A6.15 7.70 0 1 0 598.15 186.35 A6.15 7.70 0 1 0 610.45 186.35 M604.3 178.65 H614.4" fill="none" stroke="#b1171f" stroke-width="1.7" />
<path d="M617.9 188.9 L623.0 201.9 L628.2 188.9 M631.7 201.9 V188.9 H636.5 C639.6 188.9 641.2 190.7 641.2 192.6 C641.2 194.6 639.6 196.2 636.5 196.2 H631.7 M636.7 196.2 L641.2 201.9 M 654.3 190.96 C 653.47 189.39 651.82 188.9 649.85 188.9 C 647.23 188.9 645.24 189.89 645.24 191.72 C 645.24 193.47 646.77 194.19 649.76 195.27 C 652.83 196.39 654.3 197.15 654.3 199.08 C 654.3 201.05 652.46 201.9 649.9 201.9 C 647.69 201.9 645.99 201.27 645.1 200.15" fill="none" stroke="#b1171f" stroke-width="1.8" stroke-linejoin="round"/>
<path d="M610.45 223.65 A6.15 7.70 0 1 0 598.15 223.65 A6.15 7.70 0 1 0 610.45 223.65 M604.3 215.95 H614.4" fill="none" stroke="#0e9a66" stroke-width="1.7" />
<path d="M619.9 238.7 V225.9 H624.5 C627.8 225.9 629.2 227.8 629.2 229.9 C629.2 232.0 627.8 233.8 624.5 233.8 H619.9 M633.6 238.7 V225.9 H638.3 C641.5 225.9 642.8 227.8 642.8 229.7 C642.8 231.7 641.5 233.4 638.3 233.4 H633.6 M638.4 233.4 L642.8 238.7 M 656.1 227.93 C 655.28 226.39 653.65 225.9 651.7 225.9 C 649.11 225.9 647.14 226.87 647.14 228.68 C 647.14 230.4 648.66 231.11 651.61 232.17 C 654.65 233.27 656.1 234.02 656.1 235.92 C 656.1 237.86 654.28 238.7 651.74 238.7 C 649.56 238.7 647.89 238.08 647 236.98" fill="none" stroke="#0e9a66" stroke-width="1.8" />
</g>
<g transform="translate(724.40,627.80)">
<clipPath id="clipD"><rect x="205.70" y="52.20" width="488.30" height="423.70"/></clipPath>
<g clip-path="url(#clipD)" fill="none" stroke-linejoin="round">
<line x1="205.70" y1="346.8" x2="694.00" y2="346.8" stroke="#000" stroke-width="1.9"/>
<polyline points="225.10,329.60 284.20,332.10 361.70,329.60 475.00,321.60 671.20,333.30" stroke="#0e9a66" stroke-width="2.7" stroke-dasharray="4 9.5" stroke-linejoin="miter"/>
<polyline points="225.10,328.50 284.20,331.00 361.70,328.50 475.00,320.20 671.20,337.50" stroke="#0e9a66" stroke-width="2.7"/>
<polyline points="225.10,392.50 284.20,284.50 361.70,340.20 475.00,382.20 671.20,364.00" stroke="#000" stroke-width="2.9" stroke-dasharray="19 19.5"/>
<polyline points="225.10,362.70 284.20,384.00 361.70,342.30 475.00,325.40 671.20,331.80" stroke="#f58a1f" stroke-width="2.9" stroke-dasharray="19 19.5"/>
<polygon points="225.10,206.00 284.20,225.00 361.70,277.40 475.00,276.80 671.20,314.20 671.20,316.70 475.00,279.40 361.70,277.40 284.20,230.10 225.10,206.00" fill="#f58a1f" stroke="#f58a1f" stroke-width="2.2"/>
<polyline points="225.10,191.40 284.20,222.10 361.70,271.60 475.00,275.30 671.20,312.50" stroke="#000" stroke-width="2.9"/>
<polyline points="225.10,198.50 284.20,237.80 361.70,271.60 475.00,284.10 671.20,318.10" stroke="#3a66b7" stroke-width="2.9"/>
<polyline points="225.10,206.90 284.20,243.00 361.70,277.00 475.00,301.40 671.20,323.70" stroke="#b1171f" stroke-width="2.9" stroke-dasharray="4 9.5" stroke-linejoin="miter"/>
<polyline points="225.10,201.20 284.20,239.80 361.70,274.30 475.00,292.40 671.20,320.20" stroke="#b1171f" stroke-width="2.9"/>
</g>
<path d="M223.03 475.90 V471.30 M223.03 52.20 V56.80 M240.47 475.90 V471.30 M240.47 52.20 V56.80 M257.90 475.90 V471.30 M257.90 52.20 V56.80 M275.34 475.90 V471.30 M275.34 52.20 V56.80 M292.77 475.90 V466.90 M292.77 52.20 V61.20 M310.21 475.90 V471.30 M310.21 52.20 V56.80 M327.64 475.90 V471.30 M327.64 52.20 V56.80 M345.08 475.90 V471.30 M345.08 52.20 V56.80 M362.51 475.90 V471.30 M362.51 52.20 V56.80 M379.95 475.90 V466.90 M379.95 52.20 V61.20 M397.38 475.90 V471.30 M397.38 52.20 V56.80 M414.82 475.90 V471.30 M414.82 52.20 V56.80 M432.25 475.90 V471.30 M432.25 52.20 V56.80 M449.69 475.90 V471.30 M449.69 52.20 V56.80 M467.12 475.90 V466.90 M467.12 52.20 V61.20 M484.56 475.90 V471.30 M484.56 52.20 V56.80 M502.00 475.90 V471.30 M502.00 52.20 V56.80 M519.43 475.90 V471.30 M519.43 52.20 V56.80 M536.87 475.90 V471.30 M536.87 52.20 V56.80 M554.30 475.90 V466.90 M554.30 52.20 V61.20 M571.74 475.90 V471.30 M571.74 52.20 V56.80 M589.17 475.90 V471.30 M589.17 52.20 V56.80 M606.61 475.90 V471.30 M606.61 52.20 V56.80 M624.04 475.90 V471.30 M624.04 52.20 V56.80 M641.48 475.90 V466.90 M641.48 52.20 V61.20 M658.91 475.90 V471.30 M658.91 52.20 V56.80 M676.35 475.90 V471.30 M676.35 52.20 V56.80 M205.70 457.13 H210.70 M694.00 457.13 H689.00 M205.70 438.73 H215.20 M694.00 438.73 H684.50 M205.70 420.32 H210.70 M694.00 420.32 H689.00 M205.70 401.91 H210.70 M694.00 401.91 H689.00 M205.70 383.51 H210.70 M694.00 383.51 H689.00 M205.70 365.11 H210.70 M694.00 365.11 H689.00 M205.70 346.70 H215.20 M694.00 346.70 H684.50 M205.70 328.29 H210.70 M694.00 328.29 H689.00 M205.70 309.89 H210.70 M694.00 309.89 H689.00 M205.70 291.49 H210.70 M694.00 291.49 H689.00 M205.70 273.08 H210.70 M694.00 273.08 H689.00 M205.70 254.67 H215.20 M694.00 254.67 H684.50 M205.70 236.27 H210.70 M694.00 236.27 H689.00 M205.70 217.86 H210.70 M694.00 217.86 H689.00 M205.70 199.46 H210.70 M694.00 199.46 H689.00 M205.70 181.05 H210.70 M694.00 181.05 H689.00 M205.70 162.65 H215.20 M694.00 162.65 H684.50 M205.70 144.24 H210.70 M694.00 144.24 H689.00 M205.70 125.84 H210.70 M694.00 125.84 H689.00 M205.70 107.43 H210.70 M694.00 107.43 H689.00 M205.70 89.03 H210.70 M694.00 89.03 H689.00 M205.70 70.62 H215.20 M694.00 70.62 H684.50" stroke="#000" stroke-width="2" fill="none"/>
<rect x="205.70" y="52.20" width="488.30" height="423.70" fill="none" stroke="#000" stroke-width="2" stroke-linejoin="miter"/>
<path d="M 187.4 500.6 L 177.5 514.7 H 192.7 M 187.4 500.5 V 521.9 M 212.05 511.05 A 7.15 10.2 0 1 0 197.75 511.05 A 7.15 10.2 0 1 0 212.05 511.05 M 232.05 511.05 A 7.15 10.2 0 1 0 217.75 511.05 A 7.15 10.2 0 1 0 232.05 511.05 M 274.57 500.6 L 264.67 514.7 H 279.88 M 274.57 500.5 V 521.9 M 296.88 500.85 H 286.47 L 285.57 509.5 C 287.07 508.3 289.07 507.6 291.57 507.6 C 295.88 507.6 298.57 510.7 298.57 514.8 C 298.57 519 295.88 521.25 291.57 521.25 C 288.47 521.25 286.07 520 284.67 517.8 M 319.22 511.05 A 7.15 10.2 0 1 0 304.92 511.05 A 7.15 10.2 0 1 0 319.22 511.05 M 364.05 500.85 H 353.65 L 352.75 509.5 C 354.25 508.3 356.25 507.6 358.75 507.6 C 363.05 507.6 365.75 510.7 365.75 514.8 C 365.75 519 363.05 521.25 358.75 521.25 C 355.65 521.25 353.25 520 351.85 517.8 M 386.4 511.05 A 7.15 10.2 0 1 0 372.1 511.05 A 7.15 10.2 0 1 0 386.4 511.05 M 406.4 511.05 A 7.15 10.2 0 1 0 392.1 511.05 A 7.15 10.2 0 1 0 406.4 511.05 M 451.23 500.85 H 440.82 L 439.93 509.5 C 441.43 508.3 443.43 507.6 445.93 507.6 C 450.23 507.6 452.93 510.7 452.93 514.8 C 452.93 519 450.23 521.25 445.93 521.25 C 442.82 521.25 440.43 520 439.02 517.8 M 471.23 500.85 H 460.82 L 459.93 509.5 C 461.43 508.3 463.43 507.6 465.93 507.6 C 470.23 507.6 472.93 510.7 472.93 514.8 C 472.93 519 470.23 521.25 465.93 521.25 C 462.82 521.25 460.43 520 459.02 517.8 M 493.57 511.05 A 7.15 10.2 0 1 0 479.27 511.05 A 7.15 10.2 0 1 0 493.57 511.05 M 537.4 502.5 C 536.2 501.2 534.7 500.85 533.4 500.85 C 528.8 500.85 526.45 505.4 526.45 512.4 M 526.45 514.8 A 6.9 6.45 0 1 0 540.25 514.8 A 6.9 6.45 0 1 0 526.45 514.8 M 560.75 511.05 A 7.15 10.2 0 1 0 546.45 511.05 A 7.15 10.2 0 1 0 560.75 511.05 M 580.75 511.05 A 7.15 10.2 0 1 0 566.45 511.05 A 7.15 10.2 0 1 0 580.75 511.05 M 624.58 502.5 C 623.38 501.2 621.88 500.85 620.58 500.85 C 615.98 500.85 613.62 505.4 613.62 512.4 M 613.62 514.8 A 6.9 6.45 0 1 0 627.43 514.8 A 6.9 6.45 0 1 0 613.62 514.8 M 645.58 500.85 H 635.18 L 634.27 509.5 C 635.77 508.3 637.77 507.6 640.27 507.6 C 644.58 507.6 647.27 510.7 647.27 514.8 C 647.27 519 644.58 521.25 640.27 521.25 C 637.18 521.25 634.77 520 633.38 517.8 M 667.93 511.05 A 7.15 10.2 0 1 0 653.62 511.05 A 7.15 10.2 0 1 0 667.93 511.05 M 100.45 72.37 A 7.15 10.2 0 1 0 86.15 72.37 A 7.15 10.2 0 1 0 100.45 72.37 M 131.35 72.37 A 7.15 10.2 0 1 0 117.05 72.37 A 7.15 10.2 0 1 0 131.35 72.37 M 151.15 72.37 A 7.15 10.2 0 1 0 136.85 72.37 A 7.15 10.2 0 1 0 151.15 72.37 M 159.9 66.32 L 165.6 62.02 V 83.22 M 189.9 62.17 H 179.5 L 178.6 70.82 C 180.1 69.62 182.1 68.92 184.6 68.92 C 188.9 68.92 191.6 72.02 191.6 76.12 C 191.6 80.32 188.9 82.57 184.6 82.57 C 181.5 82.57 179.1 81.32 177.7 79.12 M 100.45 164.4 A 7.15 10.2 0 1 0 86.15 164.4 A 7.15 10.2 0 1 0 100.45 164.4 M 131.35 164.4 A 7.15 10.2 0 1 0 117.05 164.4 A 7.15 10.2 0 1 0 131.35 164.4 M 151.15 164.4 A 7.15 10.2 0 1 0 136.85 164.4 A 7.15 10.2 0 1 0 151.15 164.4 M 159.9 158.35 L 165.6 154.05 V 175.25 M 191.75 164.4 A 7.15 10.2 0 1 0 177.45 164.4 A 7.15 10.2 0 1 0 191.75 164.4 M 100.45 256.42 A 7.15 10.2 0 1 0 86.15 256.42 A 7.15 10.2 0 1 0 100.45 256.42 M 131.35 256.42 A 7.15 10.2 0 1 0 117.05 256.42 A 7.15 10.2 0 1 0 131.35 256.42 M 151.15 256.42 A 7.15 10.2 0 1 0 136.85 256.42 A 7.15 10.2 0 1 0 151.15 256.42 M 170.95 256.42 A 7.15 10.2 0 1 0 156.65 256.42 A 7.15 10.2 0 1 0 170.95 256.42 M 189.9 246.22 H 179.5 L 178.6 254.87 C 180.1 253.67 182.1 252.97 184.6 252.97 C 188.9 252.97 191.6 256.07 191.6 260.17 C 191.6 264.38 188.9 266.62 184.6 266.62 C 181.5 266.62 179.1 265.38 177.7 263.17 M 100.45 348.45 A 7.15 10.2 0 1 0 86.15 348.45 A 7.15 10.2 0 1 0 100.45 348.45 M 131.35 348.45 A 7.15 10.2 0 1 0 117.05 348.45 A 7.15 10.2 0 1 0 131.35 348.45 M 151.15 348.45 A 7.15 10.2 0 1 0 136.85 348.45 A 7.15 10.2 0 1 0 151.15 348.45 M 170.95 348.45 A 7.15 10.2 0 1 0 156.65 348.45 A 7.15 10.2 0 1 0 170.95 348.45 M 191.75 348.45 A 7.15 10.2 0 1 0 177.45 348.45 A 7.15 10.2 0 1 0 191.75 348.45 M 100.45 440.48 A 7.15 10.2 0 1 0 86.15 440.48 A 7.15 10.2 0 1 0 100.45 440.48 M 131.35 440.48 A 7.15 10.2 0 1 0 117.05 440.48 A 7.15 10.2 0 1 0 131.35 440.48 M 151.15 440.48 A 7.15 10.2 0 1 0 136.85 440.48 A 7.15 10.2 0 1 0 151.15 440.48 M 170.95 440.48 A 7.15 10.2 0 1 0 156.65 440.48 A 7.15 10.2 0 1 0 170.95 440.48 M 189.9 430.28 H 179.5 L 178.6 438.93 C 180.1 437.73 182.1 437.03 184.6 437.03 C 188.9 437.03 191.6 440.13 191.6 444.23 C 191.6 448.43 188.9 450.68 184.6 450.68 C 181.5 450.68 179.1 449.43 177.7 447.23 M 60.6 441.93 H 79 M 394.3 540.8 C 396.9 540.4 398.9 541.4 400.3 544.4 L 407.6 561.8 M 401.2 547.8 L 394.9 561.8 M 444.5 561.8 V 547.5 M 444.5 553.3 C 444.5 549.5 446.9 547.5 450 547.5 C 453.3 547.5 455.5 549.6 455.5 553.3 V 561.8 M 463.5 561.8 V 547.5 M 463.5 553.3 C 463.5 549.5 465.8 547.5 468.9 547.5 C 472 547.5 474.4 549.5 474.4 553.3 V 561.8 M 474.4 553.3 C 474.4 549.5 476.9 547.5 480.1 547.5 C 483.4 547.5 485.8 549.6 485.8 553.3 V 561.8" fill="none" stroke="#000" stroke-width="1.15"/>
<path d="M108.75 80.52 l1.5 1.5 l-1.5 1.5 l-1.5 -1.5 z M108.75 172.55 l1.5 1.5 l-1.5 1.5 l-1.5 -1.5 z M108.75 264.57 l1.5 1.5 l-1.5 1.5 l-1.5 -1.5 z M108.75 356.60 l1.5 1.5 l-1.5 1.5 l-1.5 -1.5 z M108.75 448.63 l1.5 1.5 l-1.5 1.5 l-1.5 -1.5 z" fill="#000"/>
<path d="M 436.6 536.8 H 430.65 V 569.2 H 436.6 M 493.4 536.8 H 499.55 V 569.2 H 493.4" fill="none" stroke="#000" stroke-width="1.7"/>
<path d="M565.6 60.6 L573.8 81.2 H557.6 Z" fill="none" stroke="#f58a1f" stroke-width="3" stroke-linejoin="miter" stroke-miterlimit="2"/>
<path d="M576.9 76.8 L581.8 89.9 L586.7 76.8 M589.9 89.9 V76.8 H594.4 C597.5 76.8 598.6 79.0 598.6 81.0 C598.6 83.1 597.3 85.0 594.4 85.0 H589.9 M594.2 85.0 L598.6 89.9 M 612.6 78.88 C 611.78 77.3 610.15 76.8 608.2 76.8 C 605.61 76.8 603.64 77.79 603.64 79.65 C 603.64 81.41 605.16 82.13 608.11 83.21 C 611.15 84.34 612.6 85.11 612.6 87.05 C 612.6 89.04 610.78 89.9 608.24 89.9 C 606.06 89.9 604.39 89.27 603.5 88.14" fill="none" stroke="#f58a1f" stroke-width="3" stroke-linejoin="round"/>
<path d="M 645.3 76.8 L 650.2 89.9 L 655.1 76.8 M 658.3 89.9 V 76.8 H 662.8 C 665.9 76.8 667 79 667 81 C 667 83.1 665.7 85 662.8 85 H 658.3 M 662.6 85 L 667 89.9 M 681 78.88 C 680.18 77.3 678.55 76.8 676.6 76.8 C 674.01 76.8 672.04 77.79 672.04 79.65 C 672.04 81.41 673.56 82.13 676.51 83.21 C 679.55 84.34 681 85.11 681 87.05 C 681 89.04 679.18 89.9 676.64 89.9 C 674.46 89.9 672.79 89.27 671.9 88.14" fill="none" stroke="#f58a1f" stroke-width="3" stroke-linejoin="round"/>
<path d="M617.9 79.5 L620.4 81.9 C620.4 84.0 619.7 85.8 618.4 87.3" fill="none" stroke="#f58a1f" stroke-width="3.0" stroke-linejoin="round"/>
<path d="M639.70 74.90 A5.95 6.80 0 1 0 627.80 74.90 A5.95 6.80 0 1 0 639.70 74.90 M640.5 62.2 C639.2 60.4 637.6 59.5 635.8 59.5 C633.6 59.5 632.4 60.7 632.4 62.6 C632.4 64.6 634.5 66.5 636.5 68.3" fill="none" stroke="#f58a1f" stroke-width="3" />
<path d="M604.8 97.6 L613.3 118.7 H596.6 Z" fill="none" stroke="#000" stroke-width="1.8" stroke-linejoin="miter"/>
<path d="M618.9 117.3 L620.3 118.8 C620.3 120.5 619.7 122.1 618.7 123.6" fill="none" stroke="#000" stroke-width="2.2" stroke-linejoin="round"/>
<path d="M640.20 111.55 A5.95 6.95 0 1 0 628.30 111.55 A5.95 6.95 0 1 0 640.20 111.55 M640.6 99.8 C639.6 97.5 638.0 96.6 636.2 96.6 C634.2 96.6 632.9 97.6 632.9 99.0 C632.9 100.8 635.0 102.6 637.6 104.8" fill="none" stroke="#000" stroke-width="1.8" />
<path d="M605.0 135.6 L613.6 156.3 H596.6 Z" fill="none" stroke="#3a66b7" stroke-width="3" stroke-linejoin="miter" stroke-miterlimit="2"/>
<path d="M624.6 157.0 A4.3 4.55 0 1 0 624.6 163.3" fill="none" stroke="#3a66b7" stroke-width="3" />
<path d="M610.45 186.35 A6.15 7.70 0 1 0 598.15 186.35 A6.15 7.70 0 1 0 610.45 186.35 M604.3 178.65 H614.4" fill="none" stroke="#b1171f" stroke-width="1.7" />
<path d="M617.9 188.9 L623.0 201.9 L628.2 188.9 M631.7 201.9 V188.9 H636.5 C639.6 188.9 641.2 190.7 641.2 192.6 C641.2 194.6 639.6 196.2 636.5 196.2 H631.7 M636.7 196.2 L641.2 201.9 M 654.3 190.96 C 653.47 189.39 651.82 188.9 649.85 188.9 C 647.23 188.9 645.24 189.89 645.24 191.72 C 645.24 193.47 646.77 194.19 649.76 195.27 C 652.83 196.39 654.3 197.15 654.3 199.08 C 654.3 201.05 652.46 201.9 649.9 201.9 C 647.69 201.9 645.99 201.27 645.1 200.15" fill="none" stroke="#b1171f" stroke-width="1.8" stroke-linejoin="round"/>
<path d="M610.45 223.65 A6.15 7.70 0 1 0 598.15 223.65 A6.15 7.70 0 1 0 610.45 223.65 M604.3 215.95 H614.4" fill="none" stroke="#0e9a66" stroke-width="1.7" />
<path d="M619.9 238.7 V225.9 H624.5 C627.8 225.9 629.2 227.8 629.2 229.9 C629.2 232.0 627.8 233.8 624.5 233.8 H619.9 M633.6 238.7 V225.9 H638.3 C641.5 225.9 642.8 227.8 642.8 229.7 C642.8 231.7 641.5 233.4 638.3 233.4 H633.6 M638.4 233.4 L642.8 238.7 M 656.1 227.93 C 655.28 226.39 653.65 225.9 651.7 225.9 C 649.11 225.9 647.14 226.87 647.14 228.68 C 647.14 230.4 648.66 231.11 651.61 232.17 C 654.65 233.27 656.1 234.02 656.1 235.92 C 656.1 237.86 654.28 238.7 651.74 238.7 C 649.56 238.7 647.89 238.08 647 236.98" fill="none" stroke="#0e9a66" stroke-width="1.8" />
</g>
<g font-family="&quot;Liberation Sans&quot;, sans-serif" font-weight="bold" font-size="33" fill="#000">
<text x="6.6" y="31.2">A</text><text x="775.6" y="31.0">B</text><text x="5.3" y="635.4">C</text><text x="775.0" y="634.8">D</text>
</g>
</svg></body></html>
